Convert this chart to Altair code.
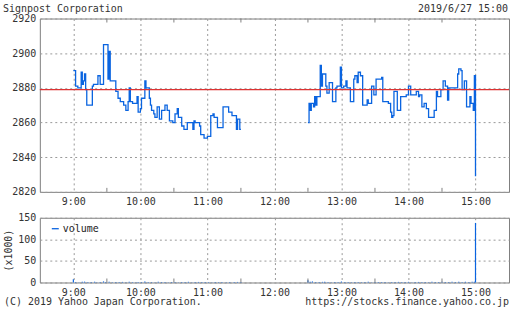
import altair as alt
import pandas as pd

DAY = "2019-06-27T"
BLUE = "#0a64e0"
RED = "#dd3333"
GREY = "#808080"
FONT = "DejaVu Sans Mono"

am_time = ["09:00", "09:02", "09:04", "09:07", "09:08", "09:09", "09:10", "09:11", "09:12",
           "09:17", "09:18", "09:22", "09:24", "09:27", "09:31", "09:32", "09:33", "09:38",
           "09:40", "09:42", "09:45", "09:47", "09:49", "09:50", "09:51", "09:53", "09:57",
           "09:58", "10:00", "10:01", "10:04", "10:05", "10:08", "10:09", "10:10", "10:12",
           "10:13", "10:15", "10:17", "10:19", "10:22", "10:24", "10:26", "10:29", "10:31",
           "10:33", "10:34", "10:37", "10:39", "10:42", "10:47", "10:48", "10:49", "10:53",
           "10:54", "10:57", "11:00", "11:03", "11:05", "11:06", "11:09", "11:14", "11:19",
           "11:22", "11:26", "11:27", "11:29", "11:30"]
am_price = [2890, 2881, 2880, 2889, 2882, 2884, 2888, 2879, 2870,
            2881, 2882, 2887, 2882, 2905, 2885, 2901, 2884, 2878,
            2874, 2872, 2870, 2867, 2872, 2880, 2872, 2871, 2875,
            2866, 2868, 2874, 2884, 2880, 2874, 2870, 2867, 2865,
            2863, 2869, 2862, 2867, 2870, 2867, 2861, 2860, 2865,
            2868, 2863, 2858, 2856, 2860, 2856, 2861, 2860, 2858,
            2853, 2851, 2852, 2864, 2865, 2863, 2857, 2869, 2866,
            2864, 2856, 2862, 2856, 2856]

pm_time = ["12:30", "12:31", "12:32", "12:33", "12:35", "12:36", "12:37", "12:38", "12:41",
           "12:42", "12:43", "12:46", "12:47", "12:49", "12:52", "12:55", "12:56", "12:59",
           "13:00", "13:02", "13:04", "13:05", "13:08", "13:11", "13:12", "13:14", "13:15",
           "13:17", "13:19", "13:23", "13:24", "13:27", "13:29", "13:31", "13:36", "13:37",
           "13:42", "13:44", "13:45", "13:46", "13:47", "13:50", "13:53", "13:58", "14:00",
           "14:02", "14:07", "14:09", "14:10", "14:12", "14:14", "14:16", "14:18", "14:23",
           "14:25", "14:26", "14:29", "14:31", "14:33", "14:35", "14:36", "14:44", "14:45",
           "14:47", "14:48", "14:50", "14:52", "14:55", "14:56", "14:58", "14:59", "15:00"]
pm_price = [2860, 2871, 2867, 2871, 2869, 2875, 2870, 2875, 2893,
            2881, 2888, 2881, 2877, 2883, 2872, 2880, 2881, 2892,
            2880, 2881, 2884, 2880, 2872, 2885, 2887, 2883, 2889,
            2887, 2870, 2873, 2871, 2881, 2876, 2885, 2886, 2872,
            2871, 2866, 2863, 2864, 2878, 2867, 2875, 2876, 2881,
            2876, 2878, 2875, 2876, 2869, 2871, 2868, 2863, 2867,
            2878, 2875, 2879, 2884, 2881, 2873, 2880, 2888, 2891,
            2890, 2879, 2884, 2869, 2875, 2871, 2867, 2887, 2829]

prev_close = 2879

vol_time = ["09:00", "09:02", "09:05", "09:08", "09:10", "09:13", "09:16", "09:19", "09:21",
            "09:24", "09:27", "09:29", "09:32", "09:35", "09:38", "09:41", "09:44", "09:47",
            "09:50", "09:53", "09:56", "09:58", "10:01", "10:04", "10:07", "10:10", "10:13",
            "10:16", "10:19", "10:22", "10:25", "10:28", "10:31", "10:34", "10:37", "10:40",
            "10:43", "10:46", "10:49", "10:52", "10:55", "10:58", "11:01", "11:04", "11:07",
            "11:10", "11:13", "11:17", "11:20", "11:24", "11:27", "11:30",
            "12:30", "12:32", "12:34", "12:37", "12:40", "12:43", "12:45", "12:48", "12:51",
            "12:54", "12:57", "13:00", "13:03", "13:06", "13:09", "13:12", "13:15", "13:18",
            "13:21", "13:24", "13:27", "13:30", "13:33", "13:36", "13:39", "13:42", "13:45",
            "13:48", "13:51", "13:54", "13:57", "14:00", "14:03", "14:06", "14:09", "14:12",
            "14:15", "14:18", "14:21", "14:24", "14:27", "14:30", "14:33", "14:36", "14:39",
            "14:42", "14:45", "14:48", "14:51", "14:54", "14:57", "14:59", "15:00"]
vol_k = [7.5, 1.2, 0.8, 1.5, 2.0, 0.9, 1.1, 1.8, 0.7,
         1.3, 2.5, 1.0, 1.6, 0.8, 1.2, 0.9, 1.4, 0.7,
         1.9, 1.0, 0.8, 1.3, 1.1, 2.2, 0.9, 1.0, 0.8,
         1.5, 0.9, 1.2, 0.7, 1.0, 1.4, 0.8, 1.1, 0.9,
         1.6, 0.8, 1.0, 1.3, 0.9, 1.2, 1.0, 0.8, 1.4,
         0.9, 1.1, 0.8, 1.2, 0.9, 1.3, 1.0,
         5.5, 1.8, 2.4, 1.2, 0.9, 1.5, 2.0, 1.1, 0.8,
         1.3, 1.0, 2.2, 0.9, 1.2, 0.8, 1.4, 1.0, 0.9,
         1.1, 1.6, 0.8, 1.2, 1.0, 0.9, 1.3, 0.8, 1.1,
         1.0, 1.4, 0.9, 1.2, 1.5, 0.8, 1.0, 1.3, 0.9,
         1.1, 0.8, 1.6, 1.0, 1.2, 2.0, 1.4, 1.1, 1.8,
         1.3, 1.5, 1.2, 1.7, 1.4, 1.9, 2.0, 138.0]

hour_ticks = [9, 10, 11, 12, 13, 14, 15]
half_ticks = ["09:30", "10:30", "11:30", "12:30", "13:30", "14:30"]
price_ticks = [2820, 2840, 2860, 2880, 2900, 2920]
vol_ticks = [0, 50, 100, 150]

title_left = "Signpost Corporation"
title_right = "2019/6/27 15:00"
foot_left = "(C) 2019 Yahoo Japan Corporation."
foot_right = "https://stocks.finance.yahoo.co.jp"

W, H1, H2 = 471, 174, 65

price_df = pd.DataFrame({
    "t": [DAY + t for t in am_time + pm_time],
    "price": am_price + pm_price,
    "session": ["am"] * len(am_time) + ["pm"] * len(pm_time),
})
vol_df = pd.DataFrame({"t": [DAY + t for t in vol_time], "vol": vol_k})
half_df = pd.DataFrame({"t": [DAY + t for t in half_ticks]})


def dt(h, m=0):
    return alt.DateTime(year=2019, month=6, date=27, hours=h, minutes=m)


xscale = alt.Scale(domain=[dt(8, 30), dt(15, 30)])
xaxis = alt.Axis(values=[dt(h) for h in hour_ticks], format="%-H:%M",
                 title=None, grid=True, labelPadding=5)
pscale = alt.Scale(domain=[2820, 2920], nice=False, zero=False)
paxis = alt.Axis(values=price_ticks, title=None, grid=True, format="d",
                 labelOverlap=False, labelFlush=False)
vscale = alt.Scale(domain=[0, 150], nice=False)
vaxis = alt.Axis(values=vol_ticks, title="(x1000)", grid=True, titlePadding=4,
                 labelOverlap=False, labelFlush=False)

X = alt.X("t:T", scale=xscale, axis=xaxis)

ref = alt.Chart(pd.DataFrame({"p": [prev_close]})).mark_rule(color=RED, strokeWidth=1.1).encode(
    y=alt.Y("p:Q", scale=pscale, axis=paxis))
line = alt.Chart(price_df).mark_line(interpolate="step-after", color=BLUE, strokeWidth=1.3).encode(
    x=X, y=alt.Y("price:Q", scale=pscale, axis=paxis), detail="session:N",
)
tick_bot = alt.Chart(half_df).mark_rule(color=GREY).encode(
    x=X, y=alt.value(H1 - 4), y2=alt.value(H1))
tick_top = alt.Chart(half_df).mark_rule(color=GREY).encode(
    x=X, y=alt.value(0), y2=alt.value(4))
head_l = alt.Chart(pd.DataFrame({"s": [title_left]})).mark_text(
    align="left", baseline="middle", font=FONT, fontSize=10, color="#333").encode(
    text="s:N", x=alt.value(-37), y=alt.value(-10))
head_r = alt.Chart(pd.DataFrame({"s": [title_right]})).mark_text(
    align="right", baseline="middle", font=FONT, fontSize=10, color="#333").encode(
    text="s:N", x=alt.value(W - 1), y=alt.value(-10))

top = alt.layer(line, tick_bot, tick_top, head_l, head_r, ref).properties(width=W, height=H1)

bars = alt.Chart(vol_df).mark_rule(color=BLUE, strokeWidth=1.2).encode(
    x=X, y=alt.Y("vol:Q", scale=vscale, axis=vaxis), y2=alt.datum(0),
)
tick_bot2 = alt.Chart(half_df).mark_rule(color=GREY).encode(
    x=X, y=alt.value(H2 - 4), y2=alt.value(H2))
leg_line = alt.Chart(pd.DataFrame({"s": ["volume"]})).mark_rule(color=BLUE, strokeWidth=1.3).encode(
    x=alt.value(12), x2=alt.value(19), y=alt.value(11))
leg_text = alt.Chart(pd.DataFrame({"s": ["volume"]})).mark_text(
    align="left", baseline="middle", font=FONT, fontSize=10, color="#222").encode(
    text="s:N", x=alt.value(23), y=alt.value(11))
foot_l = alt.Chart(pd.DataFrame({"s": [foot_left]})).mark_text(
    align="left", baseline="middle", font=FONT, fontSize=10, color="#333").encode(
    text="s:N", x=alt.value(-36), y=alt.value(H2 + 20))
foot_r = alt.Chart(pd.DataFrame({"s": [foot_right]})).mark_text(
    align="right", baseline="middle", font=FONT, fontSize=10, color="#333").encode(
    text="s:N", x=alt.value(W), y=alt.value(H2 + 20))

bottom = alt.layer(bars, tick_bot2, leg_line, leg_text, foot_l, foot_r).properties(width=W, height=H2)

chart = alt.vconcat(top, bottom, spacing=4).properties(
    padding={"left": 2, "top": 2, "right": 1, "bottom": 0},
    background="white",
).configure_view(
    stroke=GREY, strokeWidth=1
).configure_axis(
    labelFont=FONT, labelFontSize=10, labelColor="#333",
    titleFont=FONT, titleFontSize=10, titleColor="#333", titleFontWeight="normal",
    domain=False, ticks=False,
    gridColor="#999", gridDash=[2, 3], gridWidth=1,
).configure_axisY(labelPadding=4)

chart.save("out.html", embed_options={"renderer": "svg", "actions": False})
